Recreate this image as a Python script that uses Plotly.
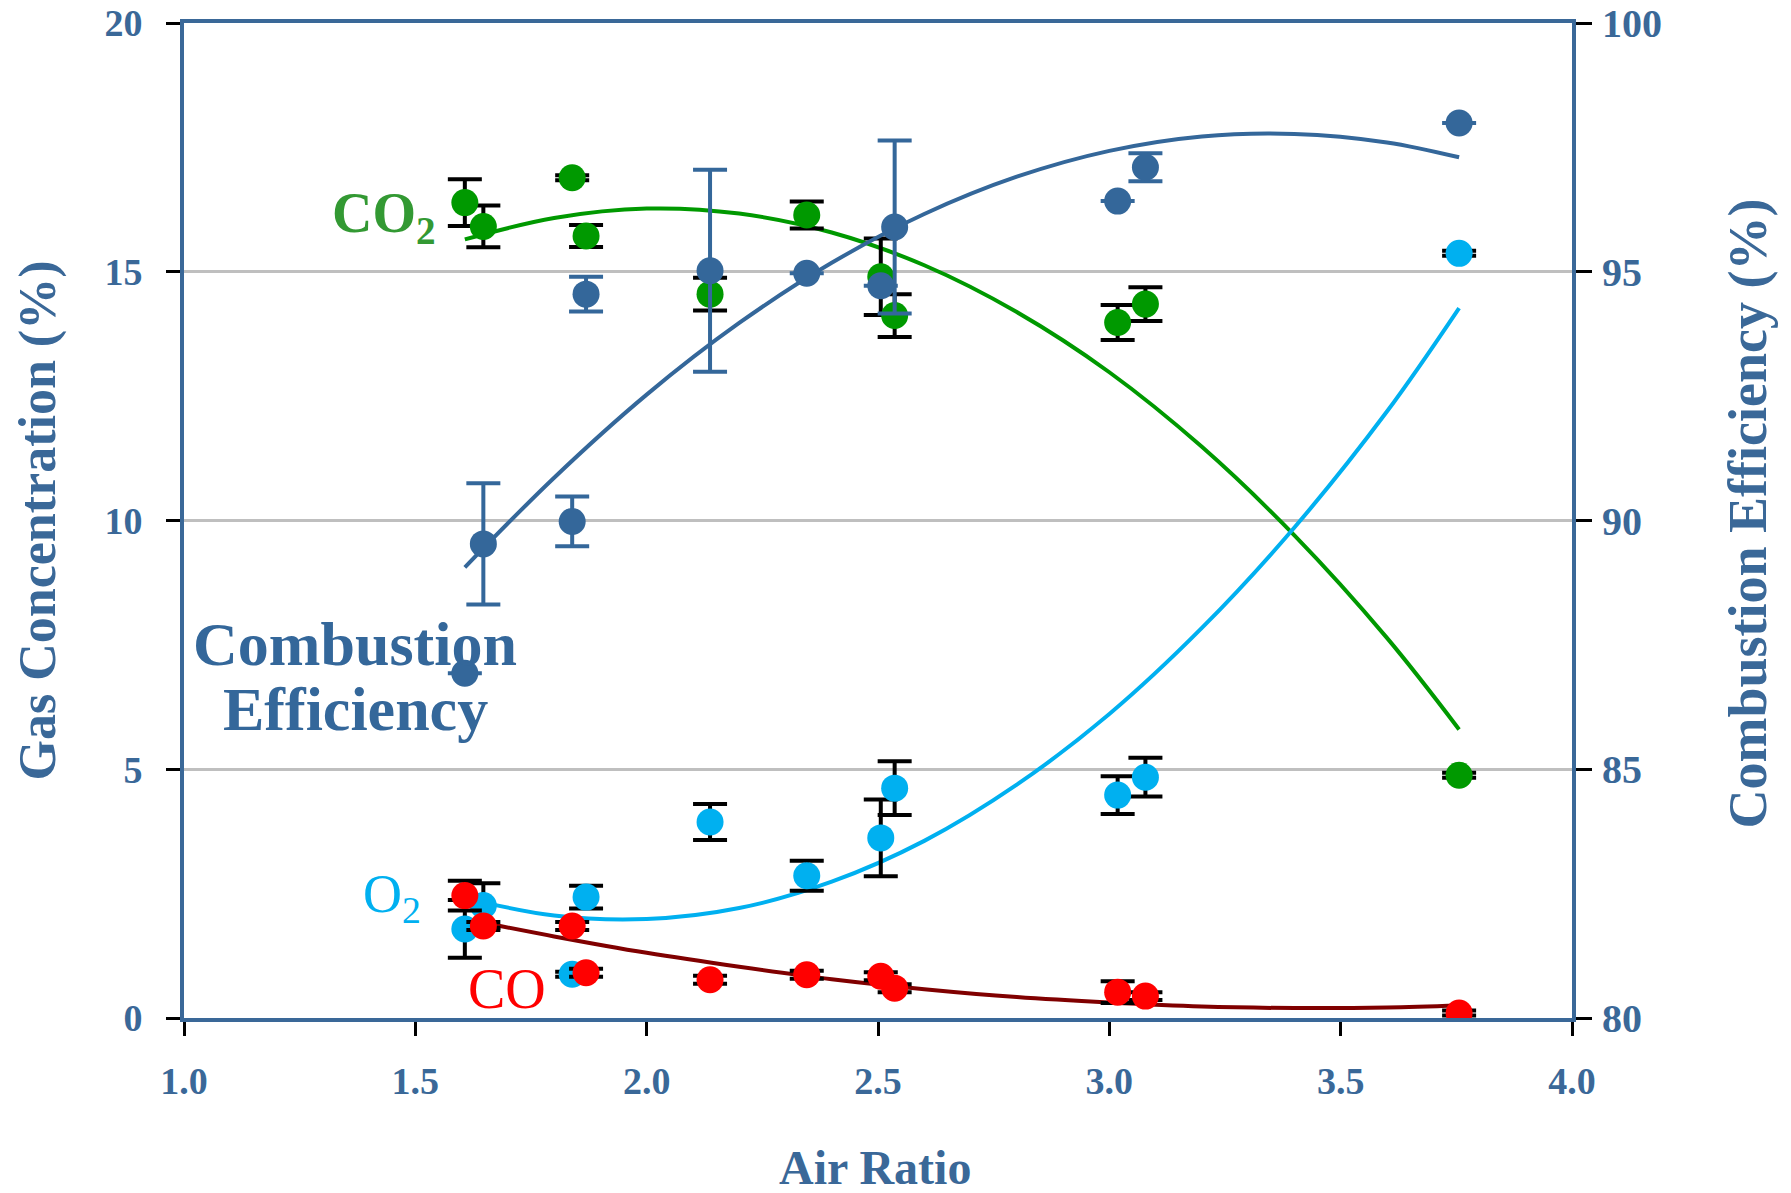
import plotly.graph_objects as go

# ---------------- data ----------------
AIR_RATIO = [1.607, 1.647, 1.839, 1.869, 2.137, 2.346, 2.506, 2.536, 3.018, 3.078, 3.756]

CO2 = [16.39, 15.91, 16.89, 15.72, 14.55, 16.14, 14.90, 14.12, 13.98, 14.35, 4.88]
CO2_ERR = [0.47, 0.42, 0.05, 0.22, 0.33, 0.27, 0.77, 0.43, 0.35, 0.34, 0.05]

O2 = [1.79, 2.26, 0.88, 2.43, 3.94, 2.86, 3.62, 4.62, 4.48, 4.84, 15.37]
O2_ERR = [0.58, 0.45, 0.05, 0.23, 0.36, 0.30, 0.77, 0.54, 0.38, 0.39, 0.05]

CO = [2.46, 1.85, 1.85, 0.91, 0.77, 0.87, 0.84, 0.60, 0.52, 0.44, 0.10]
CO_ERR = [0.30, 0.08, 0.08, 0.08, 0.08, 0.08, 0.08, 0.08, 0.22, 0.08, 0.05]

EFFICIENCY = [86.93, 89.53, 89.98, 94.55, 95.02, 94.97, 94.72, 95.90, 96.42, 97.10, 97.99]
EFFICIENCY_ERR = [0, 1.22, 0.50, 0.35, 2.03, 0, 0, 1.74, 0, 0.28, 0]

# trend curves, values
CURVE_X = [1.607, 1.8, 2.0, 2.2, 2.4, 2.6, 2.8, 3.0, 3.2, 3.4, 3.6, 3.756]
CO2_CURVE = [15.65, 16.08, 16.27, 16.17, 15.79, 15.13, 14.19, 12.98, 11.48, 9.70, 7.64, 5.80]
O2_CURVE = [2.41, 2.06, 1.99, 2.21, 2.74, 3.56, 4.69, 6.11, 7.84, 9.86, 12.19, 14.27]
CO_CURVE = [1.99, 1.64, 1.31, 1.03, 0.78, 0.58, 0.42, 0.31, 0.23, 0.20, 0.21, 0.25]
EFF_CURVE = [89.06, 90.86, 92.53, 93.97, 95.18, 96.16, 96.91, 97.43, 97.72, 97.77, 97.60, 97.30]

X_TICKS = [1.0, 1.5, 2.0, 2.5, 3.0, 3.5, 4.0]
X_TICK_TEXT = ["1.0", "1.5", "2.0", "2.5", "3.0", "3.5", "4.0"]
Y_TICKS = [0, 5, 10, 15, 20]
Y2_TICKS = [80, 85, 90, 95, 100]

# ---------------- styles ----------------
GREEN = "#009900"
GREEN_TXT = "#339933"
CYAN = "#00B0F0"
RED = "#FF0000"
MAROON = "#800000"
BLUE = "#34679A"
AXIS = "#3A6898"
GRID = "#BFBFBF"
FONT = "Liberation Serif"
MS = 27

fig = go.Figure()

# curves (primary axis)
for ys, col in [(CO2_CURVE, GREEN), (O2_CURVE, CYAN), (CO_CURVE, MAROON)]:
    fig.add_trace(go.Scatter(x=CURVE_X, y=ys, mode="lines",
                             line=dict(color=col, width=4, shape="spline"),
                             hoverinfo="skip"))

# markers (primary axis)
for ys, err, col in [(CO2, CO2_ERR, GREEN), (O2, O2_ERR, CYAN), (CO, CO_ERR, RED)]:
    fig.add_trace(go.Scatter(x=AIR_RATIO, y=ys, mode="markers",
                             marker=dict(color=col, size=MS),
                             error_y=dict(type="data", array=err, color="black",
                                          thickness=4, width=17)))

# efficiency on secondary axis
fig.add_trace(go.Scatter(x=CURVE_X, y=EFF_CURVE, mode="lines", yaxis="y2",
                         line=dict(color=BLUE, width=4, shape="spline"),
                         hoverinfo="skip"))
fig.add_trace(go.Scatter(x=AIR_RATIO, y=EFFICIENCY, mode="markers", yaxis="y2",
                         marker=dict(color=BLUE, size=MS),
                         error_y=dict(type="data", array=EFFICIENCY_ERR, color=BLUE,
                                      thickness=4, width=17)))

tickfont = dict(family=FONT, size=38, color=AXIS, weight="bold")
tickfont2 = dict(family=FONT, size=40, color=AXIS, weight="bold")

fig.update_layout(
    width=1791, height=1193,
    margin=dict(l=184, r=219, t=23, b=175, autoexpand=False),
    paper_bgcolor="white", plot_bgcolor="white",
    showlegend=False,
    xaxis=dict(range=[1, 4], tickvals=X_TICKS, ticktext=X_TICK_TEXT,
               showline=True, linecolor=AXIS, linewidth=4, mirror=True,
               ticks="outside", ticklen=14, tickwidth=3, tickcolor="black",
               showgrid=False, zeroline=False, tickfont=tickfont,
               ticklabelstandoff=12, automargin=False),
    yaxis=dict(range=[0, 20], tickvals=Y_TICKS,
               showline=True, linecolor=AXIS, linewidth=4,
               ticks="outside", ticklen=14, tickwidth=3, tickcolor="black",
               showgrid=True, gridcolor=GRID, gridwidth=3, zeroline=False,
               tickfont=tickfont, ticklabelstandoff=16, automargin=False),
    yaxis2=dict(range=[80, 100], tickvals=Y2_TICKS, overlaying="y", side="right",
                showline=True, linecolor=AXIS, linewidth=4,
                ticks="outside", ticklen=16, tickwidth=3, tickcolor="black",
                showgrid=False, zeroline=False, tickfont=tickfont2,
                ticklabelstandoff=2, automargin=False),
)

ann = [
    dict(text="Gas Concentration (%)", xref="paper", yref="paper", x=-0.1052, y=0.50,
         textangle=-90, showarrow=False, xanchor="center", yanchor="middle",
         font=dict(family=FONT, size=52, color=AXIS, weight="bold")),
    dict(text="Combustion Efficiency (%)", xref="paper", yref="paper", x=1.1268, y=0.507,
         textangle=-90, showarrow=False, xanchor="center", yanchor="middle",
         font=dict(family=FONT, size=54, color=AXIS, weight="bold")),
    dict(text="Air Ratio", xref="paper", yref="paper", x=0.4978, y=-0.150,
         showarrow=False, xanchor="center", yanchor="middle",
         font=dict(family=FONT, size=48, color=AXIS, weight="bold")),
    dict(text="CO<sub>2</sub>", x=1.432, y=16.10, showarrow=False,
         xanchor="center", yanchor="middle",
         font=dict(family=FONT, size=56, color=GREEN_TXT, weight="bold")),
    dict(text="O<sub>2</sub>", x=1.450, y=2.43, showarrow=False,
         xanchor="center", yanchor="middle",
         font=dict(family=FONT, size=54, color=CYAN)),
    dict(text="CO", x=1.698, y=0.58, showarrow=False,
         xanchor="center", yanchor="middle",
         font=dict(family=FONT, size=56, color=RED)),
    dict(text="Combustion", x=1.370, y=7.51, showarrow=False,
         xanchor="center", yanchor="middle",
         font=dict(family=FONT, size=62, color=BLUE, weight="bold")),
    dict(text="Efficiency", x=1.370, y=6.22, showarrow=False,
         xanchor="center", yanchor="middle",
         font=dict(family=FONT, size=62, color=BLUE, weight="bold")),
]
fig.update_layout(annotations=ann)

fig.write_html("out.html", config={"displayModeBar": False},
               post_script="document.body.style.margin='0';document.body.style.overflow='hidden';")
